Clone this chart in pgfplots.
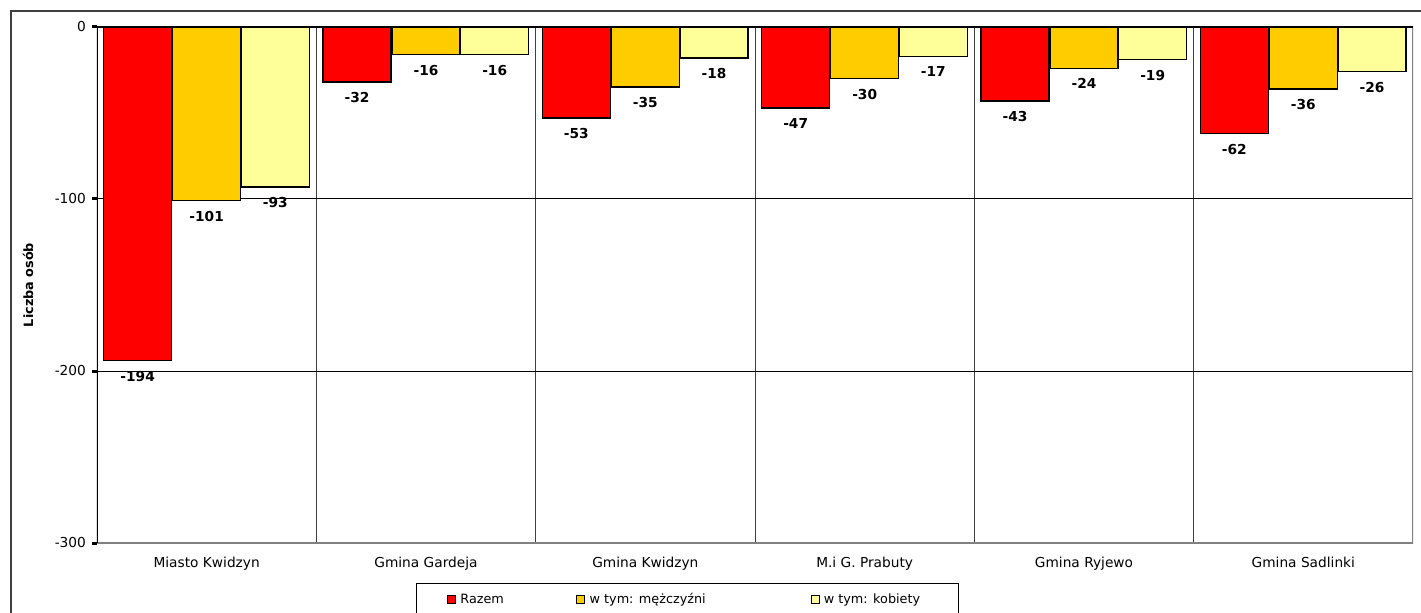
\documentclass[border=0pt]{standalone}
\usepackage{pgfplots}
\pgfplotsset{compat=1.18}
\usepackage{pgfplotstable}
\usepackage{fontspec}
\setmainfont{DejaVu Sans}

\definecolor{razem}{HTML}{FF0000}
\definecolor{mezczyzni}{HTML}{FFCC00}
\definecolor{kobiety}{HTML}{FFFF99}
\definecolor{ramka}{HTML}{404040}

\newcommand{\lab}{\fontsize{10.3pt}{12pt}\selectfont}

% saldo migracji wg gmin
\pgfplotstableread{
x razem mezczyzni kobiety
0 -194 -101 -93
1 -32 -16 -16
2 -53 -35 -18
3 -47 -30 -17
4 -43 -24 -19
5 -62 -36 -26
}\dane

\begin{document}
\begin{tikzpicture}
\useasboundingbox (0,0) rectangle (1065.75pt,-459.75pt);
% ramka wykresu (widoczna tylko lewa i gorna krawedz)
\draw[ramka, line width=1.5pt] (8.25pt,-470pt) -- (8.25pt,-8.25pt) -- (1075pt,-8.25pt);

\begin{axis}[
  at={(72.75pt,-20.25pt)}, anchor=north west,
  scale only axis, width=987pt, height=387pt,
  xmin=-0.5, xmax=5.5, ymin=-300, ymax=0,
  ybar=0pt, bar width=51pt,
  axis line style={draw=none},
  font=\lab,
  /pgf/number format/assume math mode=true,
  ytick={-300,-200,-100,0},
  ytick pos=left, tick align=outside, major tick length=3.75pt,
  ytick style={black, line width=2.25pt},
  yticklabel style={xshift=-1pt},
  ymajorgrids, major grid style={black, line width=0.75pt},
  xtick={0,...,5},
  xticklabels={Miasto Kwidzyn, Gmina Gardeja, Gmina Kwidzyn, M.i G. Prabuty, Gmina Ryjewo, Gmina Sadlinki},
  xtick pos=bottom, xtick style={draw=none},
  xticklabel style={yshift=-3.5pt},
  minor xtick={0.5,1.5,2.5,3.5,4.5},
  minor tick style={draw=none},
  xminorgrids, minor grid style={black!75, line width=0.75pt},
  tick label style={font=\lab},
  ylabel={Liczba osób},
  ylabel style={font=\fontsize{9.6pt}{11pt}\selectfont\bfseries, at={(axis description cs:-0.0524,0.5)}, anchor=center},
  nodes near coords={\pgfmathprintnumber[assume math mode=true]{\pgfplotspointmeta}},
  nodes near coords align={vertical},
  every node near coord/.append style={font=\lab\bfseries, yshift=-4pt},
  sq legend/.style={legend image code/.code={
      \draw[##1, line width=0.75pt] (0pt,-3pt) rectangle (6pt,3pt);
      \path (9pt,0pt);}},
  legend columns=3, legend cell align=left,
  legend style={at={(axis description cs:0.2424,-0.0775)}, anchor=north west,
    draw=black, line width=0.75pt, font=\fontsize{9.6pt}{11.5pt}\selectfont,
    inner xsep=23pt, inner ysep=5.5pt,
    nodes={inner xsep=0pt}},
]
\addplot[fill=razem, draw=black, line width=1.1pt, bar shift=-51.75pt, sq legend]
  table[x=x, y=razem] {\dane};
\addlegendentry{\makebox[87pt][l]{Razem}}
\addplot[fill=mezczyzni, draw=black, line width=1.1pt, bar shift=0pt, sq legend]
  table[x=x, y=mezczyzni] {\dane};
\addlegendentry{\makebox[165.75pt][l]{w tym: mężczyźni}}
\addplot[fill=kobiety, draw=black, line width=1.1pt, bar shift=51.5pt, sq legend]
  table[x=x, y=kobiety] {\dane};
\addlegendentry{\makebox[78pt][l]{w tym: kobiety}}

% obramowanie obszaru wykresu
\draw[gray, line width=1.2pt] (rel axis cs:0,0) -- (rel axis cs:1,0) -- (rel axis cs:1,1);
\draw[black, line width=2.25pt] (rel axis cs:0,0) -- (rel axis cs:0,1) -- (rel axis cs:1,1);
\draw[black, line width=2.25pt]
  (axis cs:0.5,0) -- ++(0,-3.75pt) (axis cs:1.5,0) -- ++(0,-3.75pt)
  (axis cs:2.5,0) -- ++(0,-3.75pt) (axis cs:3.5,0) -- ++(0,-3.75pt)
  (axis cs:4.5,0) -- ++(0,-3.75pt) (axis cs:5.5,0) -- ++(0,-3.75pt);
\end{axis}
\end{tikzpicture}
\end{document}
